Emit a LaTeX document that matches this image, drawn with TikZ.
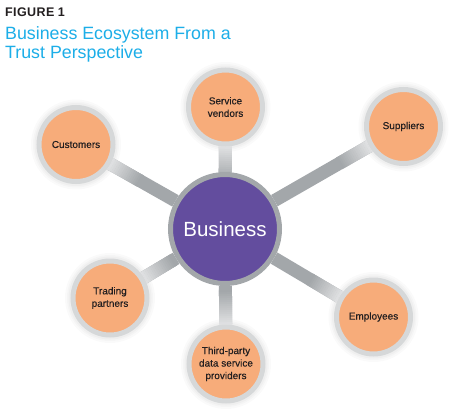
\documentclass[tikz,border=0pt]{standalone}
\usepackage{fontspec}
\setmainfont{Liberation Sans}
\newfontfamily\labelfont{Liberation Sans}[FakeBold=0.35]
\usetikzlibrary{calc}
\pgfdeclarelayer{canvas}
\pgfdeclarelayer{background}
\pgfdeclarelayer{glow}
\pgfsetlayers{canvas,glow,background,main}
\definecolor{bizpurple}{RGB}{99,77,158}
\definecolor{bizring}{RGB}{163,167,170}
\definecolor{nodeorange}{RGB}{247,172,122}
\definecolor{nodering}{RGB}{214,216,217}
\definecolor{spokedark}{RGB}{163,167,170}
\definecolor{spokelight}{RGB}{226,227,228}
\definecolor{titleblue}{RGB}{28,174,232}
\definecolor{labeltext}{RGB}{35,31,32}
\tikzset{
  bizbox/.style={circle, fill=bizpurple, draw=bizring, line width=5pt,
    minimum size=109pt, inner sep=0pt, text=white, font=\fontsize{20.5}{24}\selectfont},
  partybox/.style={circle, fill=nodeorange, draw=nodering, line width=5pt,
    minimum size=74pt, inner sep=0pt, text=labeltext, align=center,
    font=\labelfont\fontsize{10}{12.5}\selectfont},
  spokeline/.style={line width=13pt, draw=spokedark},
  figlabel/.style={anchor=base west, inner sep=0pt, text=labeltext,
    font=\fontsize{12.5}{15}\selectfont\bfseries},
  titletext/.style={anchor=base west, inner sep=0pt, text=titleblue,
    font=\fontsize{17.8}{21}\selectfont},
}
\begin{document}
\begin{tikzpicture}[x=1pt,y=-1pt]
\begin{pgfonlayer}{canvas}
\fill[white] (0,0) rectangle (450,410);
\end{pgfonlayer}
\useasboundingbox (0,0) rectangle (450,410);
\node[figlabel] (fig) at (5,16) {F\kern0.4pt I\kern0.4pt G\kern0.4pt U\kern0.4pt R\kern0.4pt E 1};
\node[titletext] (title1) at (5,39) {Business Ecosystem From a};
\node[titletext] (title2) at (5,58) {Trust Perspective};

\node[bizbox] (biz) at (225,229) {Business};
\node[partybox] (cust) at (76,144.5) {Customers};
\node[partybox] (serv) at (225.5,107) {Service\\vendors};
\node[partybox] (supp) at (403.5,126.5) {Suppliers};
\node[partybox] (trad) at (110,298) {Trading\\partners};
\node[partybox] (empl) at (373.5,317) {Employees};
\node[partybox] (third) at (226,364) {Third-party\\data service\\providers};

\begin{pgfonlayer}{glow}
\foreach \o in {cust,serv,supp,trad,empl,third}{
  \fill[black, opacity=0.02] (\o.center) circle (45);
  \fill[black, opacity=0.02] (\o.center) circle (43);
  \fill[black, opacity=0.025] (\o.center) circle (41.5);
}
\end{pgfonlayer}

\begin{pgfonlayer}{background}
\foreach \o in {cust,serv,supp,trad,empl,third}{
  \draw[spokeline] (biz) -- (\o);
  \foreach \k in {0,...,17}{
    \pgfmathsetmacro\da{38+\k*2}
    \pgfmathsetmacro\db{38+(\k+1)*2+0.4}
    \pgfmathtruncatemacro\pc{100-\k*100/17}
    \draw[line width=13pt, draw=spokelight!\pc!spokedark]
      ($(\o.center)!\da pt!(biz.center)$) -- ($(\o.center)!\db pt!(biz.center)$);
  }
}
\end{pgfonlayer}
\end{tikzpicture}
\end{document}
